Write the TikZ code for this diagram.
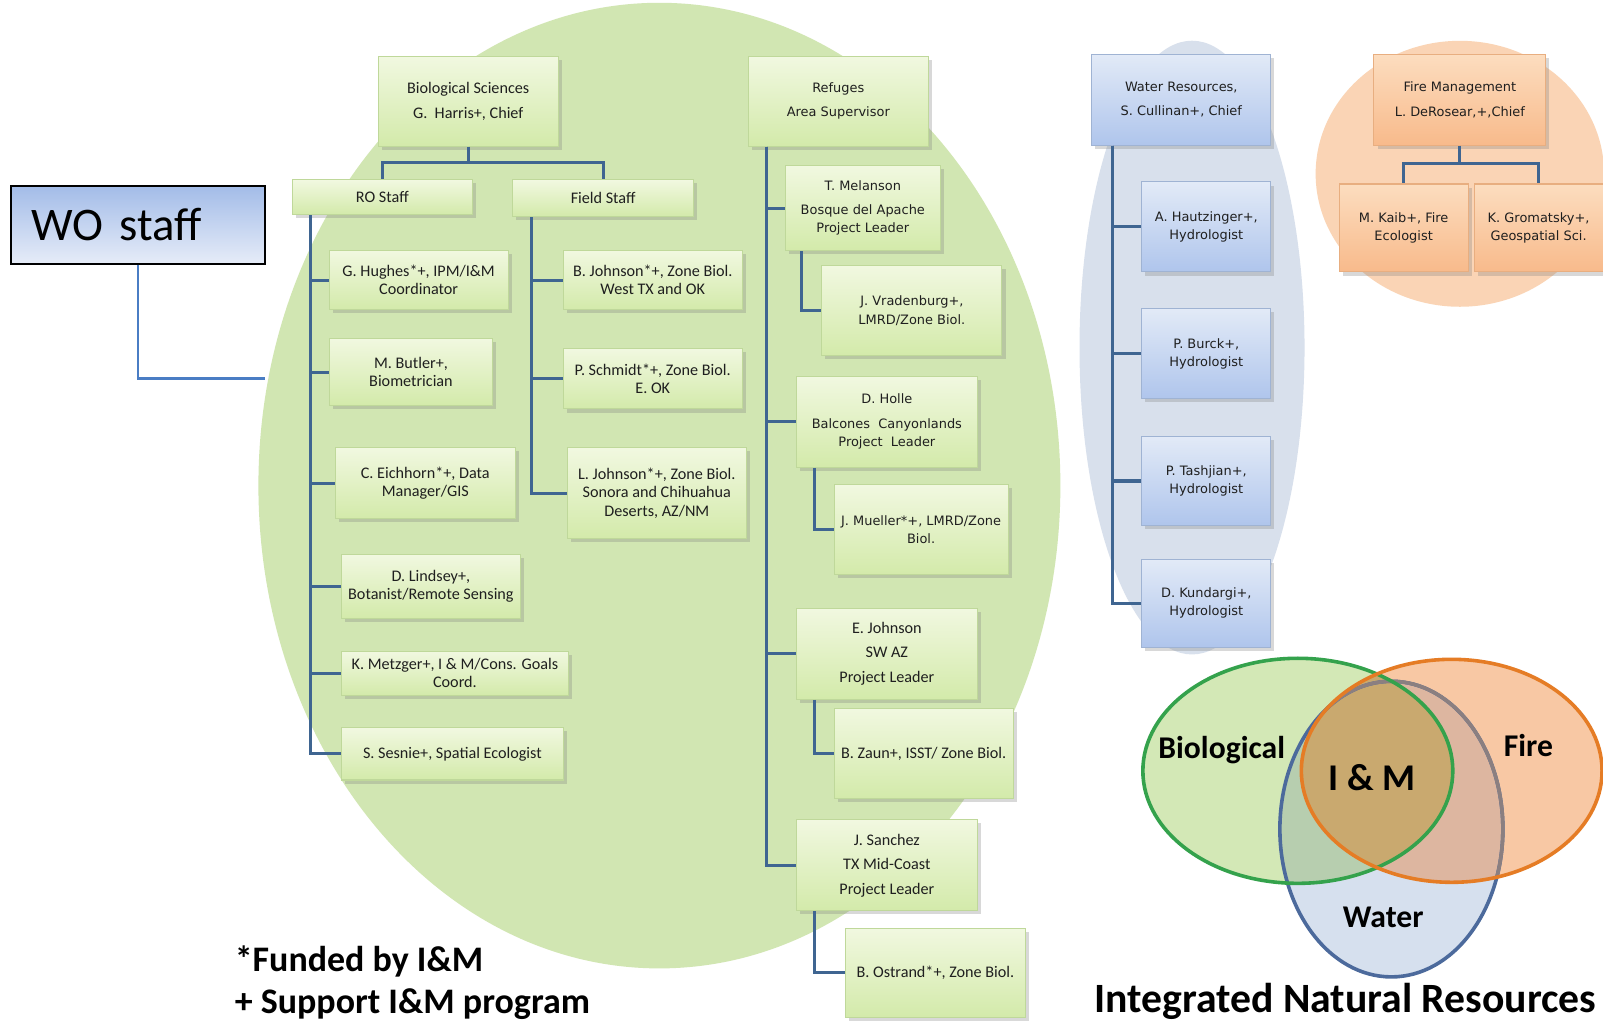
\documentclass[tikz,border=0pt]{standalone}
\usepackage{fontspec}
\setmainfont{Carlito}
\newfontfamily\widefam{DejaVu Sans}
\usetikzlibrary{shadows}
\definecolor{blobG}{HTML}{D1E6B2}
\definecolor{blobB}{HTML}{D8E0EC}
\definecolor{blobO}{HTML}{FAD4B5}
\definecolor{conn}{HTML}{3F6591}
\definecolor{woline}{HTML}{4A7DC4}
\definecolor{gtop}{HTML}{F1F8E0}
\definecolor{gbot}{HTML}{D3EAAA}
\definecolor{gbrd}{HTML}{BFD89A}
\definecolor{btop}{HTML}{E2EAF7}
\definecolor{bbot}{HTML}{AFC5EC}
\definecolor{bbrd}{HTML}{9FB3D3}
\definecolor{otop}{HTML}{FCDDBF}
\definecolor{obot}{HTML}{F8BA8B}
\definecolor{obrd}{HTML}{E8AE80}
\definecolor{wtop}{HTML}{A3BCE8}
\definecolor{wbot}{HTML}{E6ECF8}
\definecolor{vbio}{HTML}{D3E8B6}
\definecolor{vfire}{HTML}{F8C8A4}
\definecolor{vwat}{HTML}{D6E0EE}
\definecolor{vbw}{HTML}{B7CEAF}
\definecolor{vfw}{HTML}{DDB6A0}
\definecolor{vbf}{HTML}{C9A96F}
\definecolor{lbio}{HTML}{34A24C}
\definecolor{lfire}{HTML}{E57C25}
\definecolor{lwat}{HTML}{4C6A9C}
\definecolor{lwatdim}{HTML}{8B7F80}
\newcommand\boxfont{\fontsize{4.5}{5.1}\selectfont}
\newcommand\widefont{\widefam\fontsize{3.6}{5.1}\selectfont}
\tikzset{
  orgbox/.style={draw, line width=0.3pt, align=center, inner sep=0pt, text=black!88,
    drop shadow={shadow xshift=0.035cm, shadow yshift=-0.035cm, opacity=0.3}},
  gbox/.style={orgbox, draw=gbrd, top color=gtop, bottom color=gbot, font=\boxfont},
  gwbox/.style={gbox, font=\widefont},
  bbox/.style={orgbox, draw=bbrd, top color=btop, bottom color=bbot, font=\widefont},
  obox/.style={orgbox, draw=obrd, top color=otop, bottom color=obot, font=\widefont},
  wobox/.style={draw=black, line width=0.5pt, top color=wtop, bottom color=wbot, align=left,
    inner ysep=0pt, inner xsep=0.2cm, text width=2.08cm, font=\fontsize{13}{15}\selectfont},
  link/.style={draw=conn, line width=0.85pt},
  wolink/.style={draw=woline, line width=0.7pt},
  vlab/.style={font=\bfseries\fontsize{8.8}{10}\selectfont, inner sep=0pt},
  venn/.style={line width=1pt},
}
\begin{document}
\begin{tikzpicture}[x=0.01cm,y=-0.01cm]
\fill[white] (0,0) rectangle (1568,998);
\useasboundingbox (0,0) rectangle (1568,998);

% background blobs
\fill[blobG] (645,475) ellipse [x radius=3.92cm, y radius=4.72cm];
\fill[blobB] (1166,340) ellipse [x radius=1.10cm, y radius=3.00cm];
\fill[blobO] (1428,170) ellipse [x radius=1.41cm, y radius=1.30cm];

% Biological Sciences branch
\node[gbox, minimum width=1.76cm, minimum height=0.88cm] (bio) at (458,99) {Biological Sciences\\[1.7pt]G.~~Harris+, Chief};
\node[gbox, minimum width=1.76cm, minimum height=0.34cm] (ro) at (374,193) {RO Staff};
\node[gbox, minimum width=1.77cm, minimum height=0.36cm] (fs) at (590,194) {Field Staff};

\node[gbox, minimum width=1.75cm, minimum height=0.58cm] (hughes) at (409.5,274) {G. Hughes*+, IPM/I\&M\\Coordinator};
\node[gbox, minimum width=1.60cm, minimum height=0.66cm] (butler) at (402,364) {M. Butler+,\\Biometrician};
\node[gbox, minimum width=1.76cm, minimum height=0.69cm] (eich) at (416,472.5) {C. Eichhorn*+, Data\\Manager/GIS};
\node[gbox, minimum width=1.75cm, minimum height=0.63cm] (lindsey) at (421.5,573.5) {D. Lindsey+,\\Botanist/Remote Sensing};
\node[gbox, minimum width=2.22cm, minimum height=0.43cm] (metzger) at (445,658.5) {K. Metzger+, I \& M/Cons. Goals\\Coord.};
\node[gbox, minimum width=2.17cm, minimum height=0.51cm] (sesnie) at (442.5,737.5) {S. Sesnie+, Spatial Ecologist};

\node[gbox, minimum width=1.75cm, minimum height=0.58cm] (bjohn) at (638.5,274) {B. Johnson*+, Zone Biol.\\West TX and OK};
\node[gbox, minimum width=1.75cm, minimum height=0.59cm] (schmidt) at (638.5,370.5) {P. Schmidt*+, Zone Biol.\\E. OK};
\node[gbox, minimum width=1.75cm, minimum height=0.89cm] (ljohn) at (642.5,482.5) {L. Johnson*+, Zone Biol.\\Sonora and Chihuahua\\Deserts, AZ/NM};

% Refuges branch
\node[gwbox, minimum width=1.76cm, minimum height=0.88cm] (ref) at (820,99) {Refuges\\[1.7pt]Area Supervisor};
\node[gwbox, minimum width=1.52cm, minimum height=0.83cm] (melanson) at (844,203.5) {T. Melanson\\[1.7pt]Bosque del Apache\\Project Leader};
\node[gwbox, minimum width=1.76cm, minimum height=0.88cm] (vrad) at (892,304) {J. Vradenburg+,\\LMRD/Zone Biol.};
\node[gwbox, minimum width=1.77cm, minimum height=0.89cm] (holle) at (867.5,412.5) {D. Holle\\[1.7pt]Balcones~~Canyonlands\\Project~~Leader};
\node[gwbox, minimum width=1.70cm, minimum height=0.88cm] (mueller) at (901,518) {J. Mueller*+, LMRD/Zone\\Biol.};
\node[gbox, minimum width=1.77cm, minimum height=0.89cm] (ejohn) at (867.5,639.5) {E. Johnson\\[1.7pt]SW AZ\\[1.7pt]Project Leader};
\node[gbox, minimum width=1.75cm, minimum height=0.88cm] (zaun) at (903.5,737) {B. Zaun+, ISST/ Zone Biol.};
\node[gbox, minimum width=1.77cm, minimum height=0.89cm] (sanchez) at (867.5,846.5) {J. Sanchez\\[1.7pt]TX Mid-Coast\\[1.7pt]Project Leader};
\node[gbox, minimum width=1.76cm, minimum height=0.87cm] (ostrand) at (915,951.5) {B. Ostrand*+, Zone Biol.};

% Water branch
\node[bbox, minimum width=1.75cm, minimum height=0.89cm] (water) at (1155.5,97.5) {Water Resources,\\[1.7pt]S. Cullinan+, Chief};
\node[bbox, minimum width=1.26cm, minimum height=0.88cm] (hautz) at (1180,222) {A. Hautzinger+,\\Hydrologist};
\node[bbox, minimum width=1.26cm, minimum height=0.88cm] (burck) at (1180,346) {P. Burck+,\\Hydrologist};
\node[bbox, minimum width=1.26cm, minimum height=0.87cm] (tash) at (1180,470.5) {P. Tashjian+,\\Hydrologist};
\node[bbox, minimum width=1.26cm, minimum height=0.86cm] (kund) at (1180,590) {D. Kundargi+,\\Hydrologist};

% Fire branch
\node[obox, minimum width=1.68cm, minimum height=0.89cm] (fire) at (1428,97.5) {Fire Management\\[1.7pt]L. DeRosear,+,Chief};
\node[obox, minimum width=1.26cm, minimum height=0.86cm] (kaib) at (1373,223) {M. Kaib+, Fire\\Ecologist};
\node[obox, minimum width=1.26cm, minimum height=0.86cm] (grom) at (1505,223) {K. Gromatsky+,\\Geospatial Sci.};

% WO staff
\node[wobox, minimum height=0.76cm] (wo) at (135,220) {WO staff};
\coordinate (woend) at (259,370);
\draw[wolink] (wo.south) |- (woend);

% connectors
\draw[link] (bio.south) -- ++(0,15) coordinate (bj) -| (ro.north);
\draw[link] (bj) -| (fs.north);
\foreach \c in {hughes,butler,eich,lindsey,metzger,sesnie}
  \draw[link] ([xshift=0.18cm]ro.south west) |- (\c.west);
\foreach \c in {bjohn,schmidt,ljohn}
  \draw[link] ([xshift=0.19cm]fs.south west) |- (\c.west);
\foreach \c in {melanson,holle,ejohn,sanchez}
  \draw[link] ([xshift=0.18cm]ref.south west) |- (\c.west);
\draw[link] ([xshift=0.17cm]melanson.south west) |- (vrad.west);
\draw[link] ([xshift=0.18cm]holle.south west) |- (mueller.west);
\draw[link] ([xshift=0.18cm]ejohn.south west) |- (zaun.west);
\draw[link] ([xshift=0.18cm]sanchez.south west) |- (ostrand.west);
\foreach \c in {hautz,burck,tash,kund}
  \draw[link] ([xshift=0.21cm]water.south west) |- (\c.west);
\draw[link] (fire.south) -- ++(0,17) coordinate (fj) -| (kaib.north);
\draw[link] (fj) -| (grom.north);

% footnotes
\node[anchor=west, inner sep=0pt, font=\bfseries\fontsize{10}{12}\selectfont] (fn1) at (229,940) {*Funded by I\&M};
\node[anchor=west, inner sep=0pt, font=\bfseries\fontsize{10}{12}\selectfont] (fn2) at (229,982) {+ Support I\&M program};

% Venn diagram
\fill[vwat] (1361,811) ellipse [x radius=1.09cm, y radius=1.445cm];
\fill[vbio] (1269.5,754) ellipse [x radius=1.515cm, y radius=1.10cm];
\fill[vfire] (1420,754) ellipse [x radius=1.47cm, y radius=1.09cm];
\begin{scope}
  \clip (1269.5,754) ellipse [x radius=1.515cm, y radius=1.10cm];
  \fill[vbw] (1361,811) ellipse [x radius=1.09cm, y radius=1.445cm];
\end{scope}
\begin{scope}
  \clip (1420,754) ellipse [x radius=1.47cm, y radius=1.09cm];
  \fill[vfw] (1361,811) ellipse [x radius=1.09cm, y radius=1.445cm];
\end{scope}
\begin{scope}
  \clip (1269.5,754) ellipse [x radius=1.515cm, y radius=1.10cm];
  \fill[vbf] (1420,754) ellipse [x radius=1.47cm, y radius=1.09cm];
\end{scope}
\draw[venn, lwat] (1361,811) ellipse [x radius=1.09cm, y radius=1.445cm];
\begin{scope}
  \clip (1420,754) ellipse [x radius=1.47cm, y radius=1.09cm];
  \draw[venn, lwatdim] (1361,811) ellipse [x radius=1.09cm, y radius=1.445cm];
\end{scope}
\draw[venn, lbio] (1269.5,754) ellipse [x radius=1.515cm, y radius=1.10cm];
\draw[venn, lfire] (1420,754) ellipse [x radius=1.47cm, y radius=1.09cm];

\node[vlab] (vbiol) at (1195,734) {Biological};
\node[vlab, font=\bfseries\fontsize{10.5}{12}\selectfont] (vim) at (1342,761) {I \& M};
\node[vlab] (vfirel) at (1495,729) {Fire};
\node[vlab] (vwatl) at (1353,897) {Water};
\node[inner sep=0pt, font=\bfseries\fontsize{11.6}{13}\selectfont] (inr) at (1316,980) {Integrated Natural Resources};
\end{tikzpicture}
\end{document}
